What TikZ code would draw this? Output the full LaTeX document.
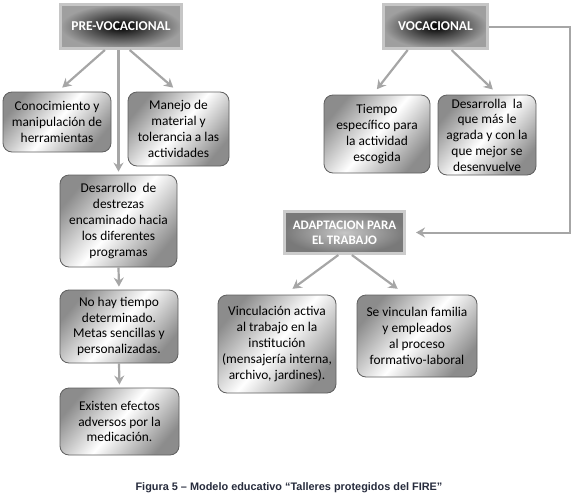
\documentclass[tikz,border=0pt]{standalone}
\usepackage{fontspec}
\setmainfont{Carlito}
\newfontfamily\capfont{Liberation Sans}
\usetikzlibrary{arrows.meta,calc}
\definecolor{arrowgray}{HTML}{A6A6A6}
\definecolor{boxedge}{HTML}{5F5F5F}
\definecolor{captionblue}{HTML}{262B3C}
\begin{document}
\begin{tikzpicture}[x=1pt,y=-1pt,
    every node/.style={font=\fontsize{13.4}{15.8}\selectfont,align=center,inner sep=2pt},
    metalbox/.style={draw=boxedge,line width=0.8pt,rounded corners=9pt,
        shading=axis,top color=gray!90,bottom color=gray!90,middle color=white,shading angle=50},
    darkhead/.style={draw=gray!45,line width=3pt,shading=radial,inner color=black,
        outer color=gray!75,text=white,font=\fontsize{13.5}{15}\selectfont\bfseries},
    lighthead/.style={draw=gray!40,line width=3pt,shading=radial,inner color=gray!45,
        outer color=gray!95!black,text=white,font=\fontsize{13}{15}\selectfont\bfseries},
    link/.style={arrowgray,line width=2.2pt,-{Stealth[length=9pt,width=10pt,inset=3pt]},shorten >=3pt}]
    \useasboundingbox (0,0) rectangle (576,498);
    % encabezados
    \node[darkhead,minimum width=121pt,minimum height=44pt] (pre) at (121,26.5) {PRE-VOCACIONAL};
    \node[darkhead,minimum width=104pt,minimum height=44pt] (voc) at (435.5,26.5) {VOCACIONAL};
    \node[lighthead,minimum width=120pt,minimum height=42pt] (adapt) at (344.5,232.5) {ADAPTACION PARA\\EL TRABAJO};
    % rama pre-vocacional
    \node[metalbox,minimum width=108pt,minimum height=60pt] (cono) at (57,122)
        {Conocimiento y\\manipulación de\\herramientas};
    \node[metalbox,minimum width=101pt,minimum height=74pt] (manejo) at (178.5,129)
        {Manejo de\\material y\\tolerancia a las\\actividades};
    \node[metalbox,minimum width=117pt,minimum height=92pt] (destrezas) at (118.5,221)
        {Desarrollo\ \ de\\destrezas\\encaminado hacia\\los diferentes\\programas};
    \node[metalbox,minimum width=118pt,minimum height=73pt] (nohay) at (119,326.5)
        {No hay tiempo\\determinado.\\Metas sencillas y\\personalizadas.};
    \node[metalbox,minimum width=119pt,minimum height=67pt] (efectos) at (119.5,421.5)
        {Existen efectos\\adversos por la\\medicación.};
    % rama vocacional
    \node[metalbox,minimum width=106pt,minimum height=78pt] (tiempo) at (377,134)
        {Tiempo\\específico para\\la actividad\\escogida};
    \node[metalbox,minimum width=98pt,minimum height=80pt] (agrada) at (487,135)
        {Desarrolla\ \ la\\que más le\\agrada y con la\\que mejor se\\desenvuelve};
    \node[metalbox,minimum width=118pt,minimum height=98pt] (vinc) at (277,344)
        {Vinculación activa\\al trabajo en la\\institución\\(mensajería interna,\\archivo, jardines).};
    \node[metalbox,minimum width=120pt,minimum height=82pt] (familia) at (417,336)
        {Se vinculan familia\\y empleados\\al proceso\\formativo-laboral};
    % flechas
    \draw[link] ($(pre.south west)!.37!(pre.south east)$) -- ($(cono.north)+(3,-2)$);
    \draw[link] ($(pre.south west)!.57!(pre.south east)$) -- ($(manejo.north)+(-3,-2)$);
    \draw[link] (destrezas.north |- pre.south) -- (destrezas.north);
    \draw[link] (destrezas.south) -- (nohay.north);
    \draw[link] (nohay.south) -- (efectos.north);
    \draw[link] ($(voc.south west)!.24!(voc.south east)$) -- ($(tiempo.north)+(-2,-3)$);
    \draw[link] ($(voc.south west)!.65!(voc.south east)$) -- ($(agrada.north)+(8,-3)$);
    \draw[link] ($(adapt.south west)!.45!(adapt.south east)$) -- ($(vinc.north west)!.61!(vinc.north east)+(0,-4)$);
    \draw[link] ($(adapt.south west)!.56!(adapt.south east)$) -- ($(familia.north west)!.36!(familia.north east)+(0,-4)$);
    \draw[link,line width=2pt,shorten >=10pt] (voc.east) -- ++(81,0) |- (adapt.east);
    % pie
    \node[font=\capfont\fontsize{10.9}{12}\selectfont\bfseries,text=captionblue] (caption) at (289,488)
        {Figura 5 – Modelo educativo “Talleres protegidos del FIRE”};
\end{tikzpicture}
\end{document}
